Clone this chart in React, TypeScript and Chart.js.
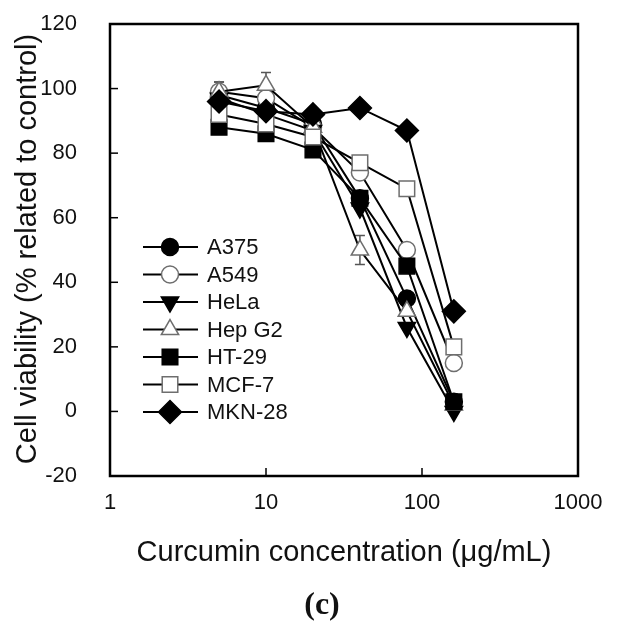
import React, { useEffect, useRef } from 'react';
import { Chart, registerables } from 'chart.js';
import { drawPoint } from 'chart.js/helpers';

Chart.register(...registerables);

// ---- data ----
const concentrations = [5, 10, 20, 40, 80, 160];
const seriesNames = ['A375', 'A549', 'HeLa', 'Hep G2', 'HT-29', 'MCF-7', 'MKN-28'];
const a375 = [98, 94, 89, 66, 35, 3];
const a549 = [99, 97, 88, 74, 50, 15];
const hela = [97, 92, 87, 63, 26, 0];
const hepG2 = [99, 101, 88, 50, 31, 2];
const ht29 = [88, 86, 81, 66, 45, 3];
const mcf7 = [92, 89, 85, 77, 69, 20];
const mkn28 = [96, 93, 92, 94, 87, 31];
const a549Err = [3, 0, 0, 0, 0, 0];
const hepG2Err = [3, 4, 0, 4.5, 0, 0];
const yTickValues = [-20, 0, 20, 40, 60, 80, 100, 120];
const xTickValues = [1, 10, 100, 1000];
const xTitle = 'Curcumin concentration (\u03bcg/mL)';
const yTitle = 'Cell viability (% related to control)';
const panelLabel = '(c)';

const seriesValues = [a375, a549, hela, hepG2, ht29, mcf7, mkn28];
const seriesErrors = [null, a549Err, null, hepG2Err, null, null, null];

const FONT = '"Liberation Sans", Arial, sans-serif';

type Style = { pointStyle: string; radius: number; rotation: number; filled: boolean };
const styles: Style[] = [
  { pointStyle: 'circle', radius: 8.5, rotation: 0, filled: true },
  { pointStyle: 'circle', radius: 8.5, rotation: 0, filled: false },
  { pointStyle: 'triangle', radius: 10, rotation: 180, filled: true },
  { pointStyle: 'triangle', radius: 10, rotation: 0, filled: false },
  { pointStyle: 'rect', radius: 11, rotation: 0, filled: true },
  { pointStyle: 'rect', radius: 11, rotation: 0, filled: false },
  { pointStyle: 'rectRot', radius: 11.5, rotation: 0, filled: true },
];
const OPEN_EDGE = '#6e6e6e';

const decorPlugin = {
  id: 'decor',
  beforeDatasetsDraw(chart: any) {
    const { ctx, scales } = chart;
    const x = scales.x, y = scales.y;
    ctx.save();
    ctx.strokeStyle = '#555';
    ctx.lineWidth = 1.5;
    seriesErrors.forEach((errs, si) => {
      if (!errs) return;
      errs.forEach((e, i) => {
        if (!e) return;
        const px = x.getPixelForValue(concentrations[i]);
        const v = seriesValues[si][i];
        const top = y.getPixelForValue(v + e);
        const bot = y.getPixelForValue(v - e);
        ctx.beginPath();
        ctx.moveTo(px, top); ctx.lineTo(px, bot);
        ctx.moveTo(px - 5, top); ctx.lineTo(px + 5, top);
        ctx.moveTo(px - 5, bot); ctx.lineTo(px + 5, bot);
        ctx.stroke();
      });
    });
    ctx.restore();
  },
  afterDraw(chart: any) {
    const { ctx, chartArea, scales } = chart;
    const x = scales.x, y = scales.y;
    ctx.save();
    // frame
    ctx.strokeStyle = '#000';
    ctx.lineWidth = 2.5;
    ctx.strokeRect(chartArea.left, chartArea.top, chartArea.right - chartArea.left, chartArea.bottom - chartArea.top);
    // inward ticks
    ctx.lineWidth = 1.5;
    yTickValues.forEach((v) => {
      const py = y.getPixelForValue(v);
      ctx.beginPath();
      ctx.moveTo(chartArea.left, py);
      ctx.lineTo(chartArea.left + 8, py);
      ctx.stroke();
    });
    xTickValues.forEach((v) => {
      const px = x.getPixelForValue(v);
      ctx.beginPath();
      ctx.moveTo(px, chartArea.bottom);
      ctx.lineTo(px, chartArea.bottom - 8);
      ctx.stroke();
    });
    // legend
    const lx0 = 143, lx1 = 198, lmx = 170, ltx = 207, ly0 = 247, ldy = 27.5;
    seriesNames.forEach((name, i) => {
      const ly = ly0 + i * ldy;
      ctx.strokeStyle = '#000';
      ctx.lineWidth = 2;
      ctx.beginPath();
      ctx.moveTo(lx0, ly); ctx.lineTo(lx1, ly);
      ctx.stroke();
      const st = styles[i];
      ctx.fillStyle = st.filled ? '#000' : '#fff';
      ctx.strokeStyle = st.filled ? '#000' : OPEN_EDGE;
      ctx.lineWidth = 1.5;
      drawPoint(ctx, { pointStyle: st.pointStyle as any, radius: st.radius, rotation: st.rotation, borderWidth: 1.5 }, lmx, ly);
      ctx.fillStyle = '#111';
      ctx.font = `22px ${FONT}`;
      ctx.textAlign = 'left';
      ctx.textBaseline = 'middle';
      ctx.fillText(name, ltx, ly + 1);
    });
    // axis titles
    ctx.fillStyle = '#111';
    ctx.font = `29px ${FONT}`;
    ctx.textAlign = 'center';
    ctx.textBaseline = 'middle';
    ctx.fillText(xTitle, 344, 553);
    ctx.save();
    ctx.translate(28, 249);
    ctx.rotate(-Math.PI / 2);
    ctx.fillText(yTitle, 0, 0);
    ctx.restore();
    // panel label
    ctx.font = `bold 32px "Liberation Serif", "DejaVu Serif", serif`;
    ctx.fillText(panelLabel, 322, 606);
    ctx.restore();
  },
};

export default function App() {
  const ref = useRef<HTMLCanvasElement>(null);
  useEffect(() => {
    document.body.style.margin = '0';
    const canvas = ref.current!;
    const datasets = seriesNames.map((name, i) => {
      const st = styles[i];
      return {
        label: name,
        data: concentrations.map((c, j) => ({ x: c, y: seriesValues[i][j] })),
        borderColor: '#000',
        borderWidth: 2,
        pointStyle: st.pointStyle,
        pointRadius: st.radius,
        pointRotation: st.rotation,
        pointBackgroundColor: st.filled ? '#000' : '#fff',
        pointBorderColor: st.filled ? '#000' : OPEN_EDGE,
        pointBorderWidth: 1.5,
        fill: false,
        tension: 0,
        order: seriesNames.length - i,
      };
    });
    const chart = new Chart(canvas, {
      type: 'line',
      data: { datasets },
      options: {
        responsive: false,
        animation: false,
        devicePixelRatio: 1,
        layout: { autoPadding: false, padding: { top: 24, right: 40, left: 0, bottom: 0 } },
        plugins: { legend: { display: false }, tooltip: { enabled: false } },
        scales: {
          x: {
            type: 'logarithmic',
            min: 1,
            max: 1000,
            grid: { display: false },
            border: { display: false },
            afterBuildTicks: (s: any) => { s.ticks = xTickValues.map((v) => ({ value: v })); },
            afterFit: (s: any) => { s.height = 165; s.paddingLeft = 0; s.paddingRight = 0; },
            ticks: {
              padding: 6,
              color: '#111',
              font: { family: FONT, size: 22 },
              maxRotation: 0,
              autoSkip: false,
              callback: (v: any) => String(v),
            },
          },
          y: {
            min: -20,
            max: 120,
            grid: { display: false },
            border: { display: false },
            afterFit: (s: any) => { s.width = 110; s.paddingTop = 0; s.paddingBottom = 0; },
            ticks: {
              stepSize: 20,
              padding: 25,
              color: '#111',
              font: { family: FONT, size: 22 },
            },
          },
        },
      },
      plugins: [decorPlugin],
    } as any);
    return () => chart.destroy();
  }, []);
  return <canvas ref={ref} width={618} height={641} style={{ display: 'block' }} />;
}
